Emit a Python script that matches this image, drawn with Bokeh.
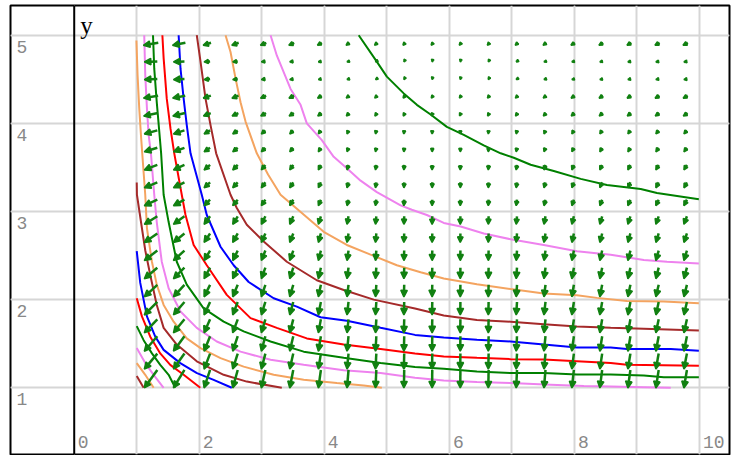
import numpy as np
from bokeh.plotting import figure
from bokeh.models import ColumnDataSource, Range1d, Grid, FixedTicker, Span, Arrow, NormalHead
from bokeh.core.properties import value
from bokeh.embed import file_html
from bokeh.resources import INLINE

# ---------------- data ----------------
x_tick_labels = [0, 2, 4, 6, 8, 10]
y_tick_labels = [1, 2, 3, 4, 5]
x_grid_lines = [1, 2, 3, 4, 5, 6, 7, 8, 9, 10]
y_grid_lines = [1, 2, 3, 4, 5]
axis_label = "y"

# vector-field domain and cell count
field_x_domain = (1.0, 10.0)
field_y_domain = (1.0, 5.0)
field_cells = 20
# leftward component per column (x units), columns from x=1.225 to 9.775
u_cols = [0.208, 0.176, 0.096, 0.080, 0.064, 0.056, 0.040, 0.024, 0.013, 0.005,
          0.002, 0.002, 0.005, 0.013, 0.024, 0.032, 0.037, 0.040, 0.045, 0.048]
# extra leftward drift per row (x units), rows from y=1.1 to 4.9
u_rows = [0, 0, 0, 0, 0, 0, 0, 0, 0, 0,
          0, 0, 0, 0, 0, 0.02, 0.025, 0, 0, 0.03]
# downward component per row (y units), rows from y=1.1 to 4.9
v_rows = [0.204, 0.176, 0.170, 0.153, 0.147, 0.136, 0.125, 0.113, 0.102, 0.091,
          0.068, 0.062, 0.057, 0.045, 0.040, 0.034, 0.028, 0.006, 0.006, 0.028]

# contour curves, from highest level (top right) to lowest (bottom left)
c1_x = [4.55, 4.82, 5.00, 5.27, 5.48, 5.70, 5.96, 6.23, 6.55, 6.82, 7.03, 7.30, 7.67, 8.10, 8.52, 9.06, 9.32, 9.99]
c1_y = [5.00, 4.72, 4.53, 4.34, 4.21, 4.10, 3.96, 3.87, 3.75, 3.66, 3.61, 3.53, 3.46, 3.37, 3.30, 3.255, 3.21, 3.14]
c2_x = [3.14, 3.24, 3.46, 3.62, 3.72, 3.96, 4.15, 4.36, 4.58, 4.84, 5.22, 5.40, 5.64, 5.91, 6.18, 6.55, 6.98, 7.51, 8.04, 8.58, 9.11, 9.48, 9.99]
c2_y = [5.00, 4.77, 4.39, 4.21, 4.00, 3.81, 3.62, 3.49, 3.35, 3.22, 3.07, 3.02, 2.96, 2.87, 2.83, 2.75, 2.685, 2.62, 2.55, 2.51, 2.45, 2.43, 2.41]
c3_x = [2.42, 2.50, 2.58, 2.66, 2.74, 2.92, 3.10, 3.30, 3.99, 4.36, 4.74, 5.16, 5.54, 5.91, 6.44, 6.98, 7.51, 8.04, 8.36, 8.84, 9.43, 9.99]
c3_y = [5.00, 4.81, 4.51, 4.24, 4.02, 3.66, 3.42, 3.19, 2.77, 2.62, 2.51, 2.39, 2.31, 2.24, 2.175, 2.12, 2.07, 2.05, 2.02, 1.985, 1.98, 1.96]
c4_x = [1.96, 2.02, 2.10, 2.18, 2.27, 2.50, 2.60, 2.76, 3.03, 3.40, 3.88, 4.31, 4.79, 5.45, 5.91, 6.44, 6.98, 7.51, 8.04, 8.58, 9.11, 9.99]
c4_y = [5.00, 4.70, 4.28, 3.98, 3.66, 3.19, 3.04, 2.85, 2.66, 2.43, 2.22, 2.11, 2.00, 1.90, 1.82, 1.77, 1.75, 1.72, 1.695, 1.68, 1.67, 1.65]
c5_x = [1.67, 1.70, 1.75, 1.80, 1.86, 2.04, 2.12, 2.34, 2.55, 2.79, 3.19, 3.56, 3.94, 4.36, 4.90, 5.45, 5.91, 6.44, 6.98, 7.51, 8.04, 8.58, 8.84, 9.54, 9.99]
c5_y = [5.00, 4.62, 4.28, 3.98, 3.66, 3.19, 2.96, 2.60, 2.39, 2.20, 2.016, 1.92, 1.80, 1.76, 1.68, 1.60, 1.57, 1.544, 1.525, 1.49, 1.456, 1.456, 1.44, 1.44, 1.42]
c6_x = [1.41, 1.43, 1.48, 1.54, 1.60, 1.72, 1.78, 1.91, 2.12, 2.44, 2.82, 3.24, 3.72, 4.31, 4.90, 5.45, 5.91, 6.44, 6.98, 7.51, 8.04, 8.58, 8.84, 9.99]
c6_y = [5.00, 4.74, 4.28, 3.94, 3.66, 3.19, 2.96, 2.62, 2.39, 2.054, 1.79, 1.68, 1.56, 1.49, 1.44, 1.39, 1.355, 1.34, 1.325, 1.32, 1.30, 1.28, 1.26, 1.25]
c7_x = [1.26, 1.28, 1.32, 1.365, 1.39, 1.43, 1.51, 1.64, 1.80, 2.07, 2.39, 2.71, 3.14, 3.67, 4.31, 4.90, 5.45, 5.91, 6.44, 6.98, 7.51, 8.04, 8.58, 9.11, 9.43, 9.99]
c7_y = [5.00, 4.62, 4.24, 3.87, 3.66, 3.19, 2.88, 2.43, 2.17, 1.90, 1.75, 1.64, 1.525, 1.41, 1.34, 1.28, 1.235, 1.215, 1.185, 1.167, 1.167, 1.15, 1.15, 1.14, 1.12, 1.12]
c8_x = [1.12, 1.136, 1.163, 1.19, 1.227, 1.28, 1.32, 1.40, 1.51, 1.70, 1.96, 2.28, 2.66, 3.14, 3.67, 4.31, 4.90, 5.45, 5.91, 6.44, 6.98, 7.62, 8.15, 8.58, 9.11, 9.54]
c8_y = [5.00, 4.55, 4.17, 3.87, 3.66, 3.19, 2.88, 2.43, 2.13, 1.865, 1.68, 1.525, 1.41, 1.317, 1.26, 1.20, 1.167, 1.115, 1.083, 1.065, 1.053, 1.035, 1.02, 1.015, 1.007, 1.0]
c9_x = [0.995, 1.013, 1.04, 1.067, 1.088, 1.136, 1.163, 1.243, 1.32, 1.43, 1.59, 1.80, 2.02, 2.34, 2.71, 3.19, 3.67, 4.20, 4.63, 4.92]
c9_y = [4.94, 4.55, 4.17, 3.87, 3.66, 3.19, 2.81, 2.43, 2.17, 1.94, 1.75, 1.56, 1.45, 1.337, 1.24, 1.147, 1.09, 1.053, 1.026, 1.0]
c10_x = [1.0, 1.003, 1.083, 1.136, 1.216, 1.32, 1.43, 1.64, 1.96, 2.39, 2.76, 3.32]
c10_y = [3.33, 3.19, 2.81, 2.56, 2.28, 1.94, 1.68, 1.49, 1.30, 1.147, 1.07, 1.0]
c11_x = [1.0, 1.056, 1.163, 1.296, 1.43, 1.696, 1.963, 2.23, 2.52]
c11_y = [2.55, 2.19, 1.81, 1.58, 1.43, 1.28, 1.167, 1.09, 1.0]
c12_x = [1.0, 1.083, 1.216, 1.376, 1.536, 1.75, 2.016]
c12_y = [2.016, 1.81, 1.58, 1.39, 1.26, 1.147, 1.0]
c13_x = [1.0, 1.11, 1.243, 1.376, 1.51, 1.616]
c13_y = [1.70, 1.54, 1.39, 1.26, 1.147, 1.0]
c14_x = [1.0, 1.136, 1.27, 1.43]
c14_y = [1.45, 1.28, 1.147, 1.0]
c15_x = [1.0, 1.136, 1.27]
c15_y = [1.28, 1.147, 1.0]
c16_x = [1.0, 1.11]
c16_y = [1.135, 1.0]

curve_colors_cycle = ["#008000", "#EE82EE", "#F4A460", "#A52A2A", "#0000FF", "#FF0000"]

# ---------------- figure ----------------
x_range = Range1d(-1.019, 10.48)
y_range = Range1d(0.243, 5.337)

p = figure(width=731, height=455, x_range=x_range, y_range=y_range,
           toolbar_location=None, x_axis_location=None, y_axis_location=None,
           output_backend="svg",
           min_border_left=10, min_border_right=2, min_border_top=5, min_border_bottom=1)
p.outline_line_color = "black"
p.outline_line_width = 2
p.background_fill_color = "white"
p.border_fill_color = "white"

p.add_layout(Grid(dimension=0, ticker=FixedTicker(ticks=x_grid_lines),
                  grid_line_color="#d6d6d6", grid_line_width=2))
p.add_layout(Grid(dimension=1, ticker=FixedTicker(ticks=y_grid_lines),
                  grid_line_color="#d6d6d6", grid_line_width=2))
p.add_layout(Span(location=0, dimension="height", line_color="black", line_width=2))

# contours
curves_x = [c1_x, c2_x, c3_x, c4_x, c5_x, c6_x, c7_x, c8_x, c9_x, c10_x, c11_x, c12_x, c13_x, c14_x, c15_x, c16_x]
curves_y = [c1_y, c2_y, c3_y, c4_y, c5_y, c6_y, c7_y, c8_y, c9_y, c10_y, c11_y, c12_y, c13_y, c14_y, c15_y, c16_y]
colors = [curve_colors_cycle[i % len(curve_colors_cycle)] for i in range(len(curves_x))]
p.multi_line(xs=curves_x, ys=curves_y, line_color=colors, line_width=2)

# vector field
dxc = (field_x_domain[1] - field_x_domain[0]) / field_cells
dyc = (field_y_domain[1] - field_y_domain[0]) / field_cells
cx = [field_x_domain[0] + dxc * (i + 0.5) for i in range(field_cells)]
cy = [field_y_domain[0] + dyc * (j + 0.5) for j in range(field_cells)]
x0, y0, x1, y1, hs = [], [], [], [], []
for i, xc in enumerate(cx):
    for j, yc in enumerate(cy):
        du = -(u_cols[i] + u_rows[j])
        dv = -v_rows[j]
        x0.append(xc - du / 2); y0.append(yc - dv / 2)
        x1.append(xc + du / 2); y1.append(yc + dv / 2)
        length_px = float(np.hypot(du * 62.5, dv * 88.2))
        hs.append(float(np.clip(0.45 * length_px + 1.5, 2.5, 6.5)))
arrow_src = ColumnDataSource(dict(x0=x0, y0=y0, x1=x1, y1=y1, hs=hs))
green = "#118011"
p.add_layout(Arrow(source=arrow_src, x_start="x0", y_start="y0", x_end="x1", y_end="y1",
                   line_color=green, line_width=2.5,
                   end=NormalHead(size="hs", line_color=green, fill_color=green, line_width=1.5)))

# tick labels
p.text(x=[x_range.start] * len(y_tick_labels), y=y_tick_labels, text=[str(t) for t in y_tick_labels],
       x_offset=6, y_offset=11.5, text_align="left", text_baseline="middle",
       text_font=value("Liberation Mono"), text_font_size="18px", text_color="#888888")
p.text(x=x_tick_labels, y=[y_range.start] * len(x_tick_labels), text=[str(t) for t in x_tick_labels],
       x_offset=3.5, y_offset=-13, text_align="left", text_baseline="middle",
       text_font=value("Liberation Mono"), text_font_size="18px", text_color="#888888")
p.text(x=[0], y=[y_range.end], text=[axis_label], x_offset=6, y_offset=20,
       text_align="left", text_baseline="middle",
       text_font=value("Liberation Serif"), text_font_size="25px", text_color="black")

open("out.html", "w").write(file_html(p, INLINE))
